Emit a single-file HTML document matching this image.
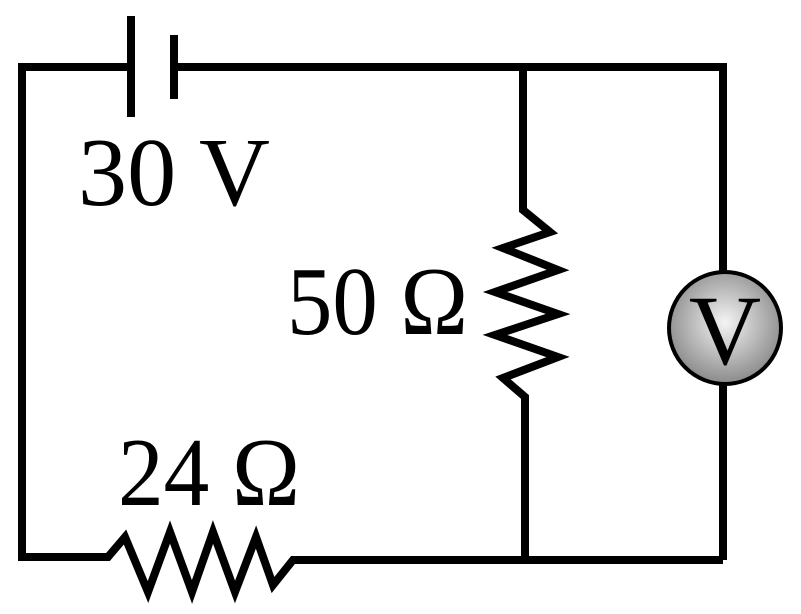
<!DOCTYPE html>
<html><head><style>html,body{margin:0;padding:0;background:#fff}svg{display:block}</style></head><body>
<svg width="801" height="614" viewBox="0 0 801 614" xmlns="http://www.w3.org/2000/svg">
<defs><radialGradient id="g" cx="0.5" cy="0.45" r="0.55"><stop offset="0" stop-color="#f4f4f4"/><stop offset="1" stop-color="#8a8a8a"/></radialGradient></defs>
<g fill="none" stroke="#000" stroke-width="8" stroke-linejoin="miter">
<polyline points="128,67 22,67 22,557 108,557 125,537 148,592 170,532 192,592 213,532 235,592 256,537 273,585 293,560 723,560"/>
<polyline points="176,67 723,67 723,272"/>
<line x1="723" y1="385" x2="723" y2="560"/>
<polyline points="523,67 523,210 550,232 503,248 558,270 495,292 558,314 495,335 558,357 503,378 525,397 525,557"/>
<line x1="131" y1="16" x2="131" y2="117"/>
<line x1="174" y1="35" x2="174" y2="99"/>
</g>
<circle cx="725" cy="328" r="56" fill="url(#g)" stroke="#000" stroke-width="4"/>
<g font-family="Liberation Serif, serif" fill="#000">
<text x="78" y="205" font-size="98" textLength="192" lengthAdjust="spacingAndGlyphs">30 V</text>
<text x="287" y="334" font-size="98" textLength="181" lengthAdjust="spacingAndGlyphs">50 Ω</text>
<text x="118" y="505" font-size="98" textLength="182" lengthAdjust="spacingAndGlyphs">24 Ω</text>
<text x="725" y="364" font-size="100" text-anchor="middle">V</text>
</g>
</svg>
</body></html>
